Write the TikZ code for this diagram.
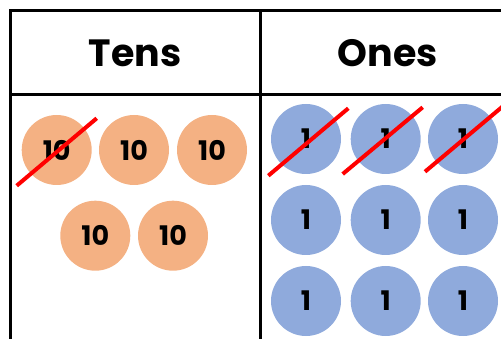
\documentclass[tikz,border=0pt]{standalone}
\usepackage{fontspec}
\setmainfont{Poppins}
\definecolor{tenfill}{HTML}{F4B183}
\definecolor{onefill}{HTML}{8FAADC}
\definecolor{strike}{HTML}{FF0000}
\begin{document}
\begin{tikzpicture}[x=1pt,y=-1pt,
  gridline/.style={line width=3pt,black},
  head/.style={font=\fontsize{38}{40}\selectfont\bfseries,inner sep=0pt},
  disc/.style={circle,minimum size=70pt,inner sep=0pt,font=\fontsize{27}{28}\selectfont\bfseries},
  tendisc/.style={disc,fill=tenfill},
  onedisc/.style={disc,fill=onefill},
  cross/.style={line width=4pt,strike}]
\useasboundingbox (0,0) rectangle (501,339);
% table
\coordinate (tl) at (10.5,10.5);
\coordinate (tr) at (510,10.5);
\coordinate (bl) at (10.5,350);
\coordinate (mt) at (260,10.5);
\coordinate (mb) at (260,350);
\coordinate (hl) at (10.5,94.5);
\coordinate (hr) at (510,94.5);
\draw[gridline] (bl) -- (tl) -- (tr);
\draw[gridline] (mt) -- (mb);
\draw[gridline] (hl) -- (hr);
\node[head] (tens) at (135,53) {Tens};
\node[head] (ones) at (388,53) {Ones};
% tens
\node[tendisc] (t1) at (56.7,150) {10};
\node[tendisc] (t2) at (134,150) {10};
\node[tendisc] (t3) at (212,150) {10};
\node[tendisc] (t4) at (95.3,235.7) {10};
\node[tendisc] (t5) at (173,235.7) {10};
% ones
\foreach \r/\y in {1/139,2/220,3/301}{
  \node[onedisc] (o\r a) at (306,\y) {1};
  \node[onedisc] (o\r b) at (385.7,\y) {1};
  \node[onedisc] (o\r c) at (463,\y) {1};
}
% strikes
\coordinate (s1a) at (16.7,185.7); \coordinate (s1b) at (96.7,118.3);
\coordinate (s2a) at (268.3,175.7); \coordinate (s2b) at (348.3,108.3);
\coordinate (s3a) at (342.7,174); \coordinate (s3b) at (422.7,107.3);
\coordinate (s4a) at (425,171.7); \coordinate (s4b) at (505,104.5);
\draw[cross] (s1a) -- (s1b);
\draw[cross] (s2a) -- (s2b);
\draw[cross] (s3a) -- (s3b);
\draw[cross] (s4a) -- (s4b);
\end{tikzpicture}
\end{document}
